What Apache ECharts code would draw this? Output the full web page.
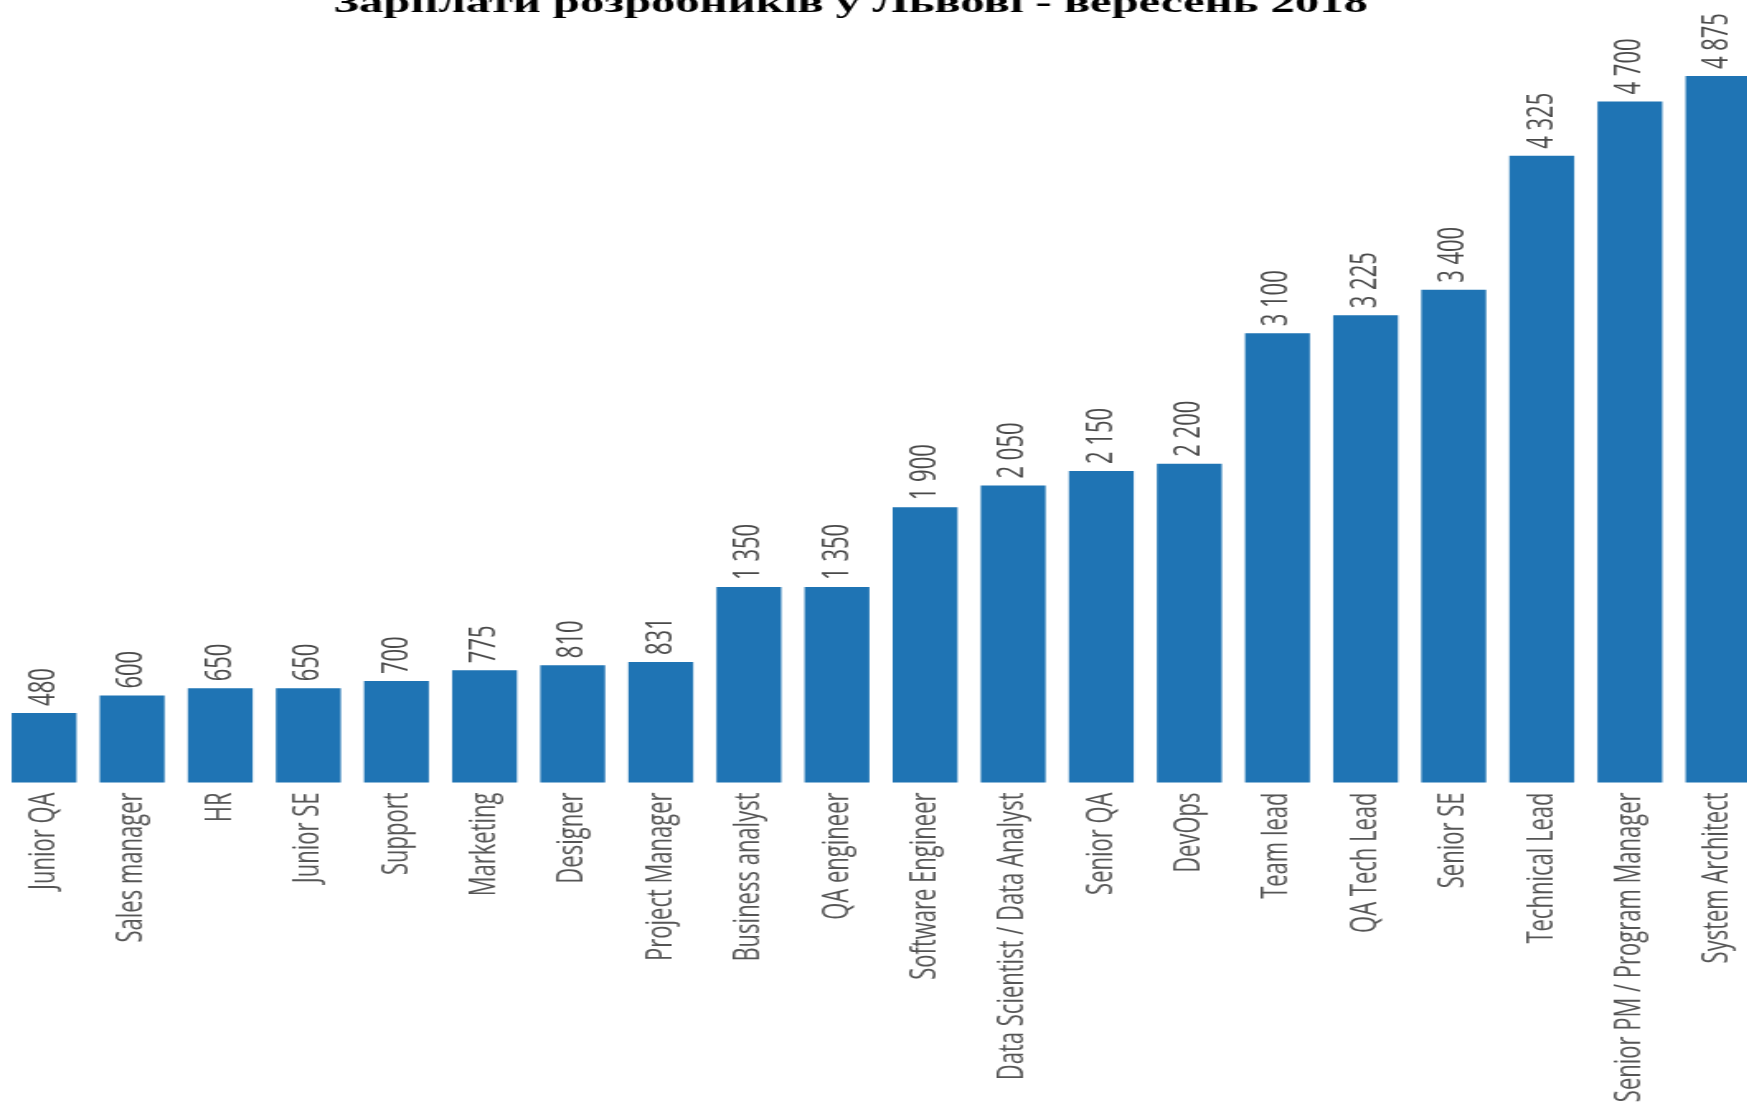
<!DOCTYPE html>
<html>
<head>
<meta charset="utf-8">
<script src="https://cdn.jsdelivr.net/npm/echarts@6/dist/echarts.min.js"></script>
<style>
  html, body { margin: 0; padding: 0; background: #ffffff; overflow: hidden; }
  body { width: 1748px; height: 1104px; }
  #chart { width: 1059.39px; height: 1104px; transform: scaleX(1.65); transform-origin: 0 0; }
</style>
</head>
<body>
<div id="chart"></div>
<script>
const titleText = 'Зарплати розробників у Львові - вересень 2018';
const categories = [
  'Junior QA', 'Sales manager', 'HR', 'Junior SE', 'Support', 'Marketing',
  'Designer', 'Project Manager', 'Business analyst', 'QA engineer',
  'Software Engineer', 'Data Scientist / Data Analyst', 'Senior QA', 'DevOps',
  'Team lead', 'QA Tech Lead', 'Senior SE', 'Technical Lead',
  'Senior PM / Program Manager', 'System Architect'
];
const salaries = [
  480, 600, 650, 650, 700, 775,
  810, 831, 1350, 1350,
  1900, 2050, 2150, 2200,
  3100, 3225, 3400, 4325,
  4700, 4875
];

function fmt(v) {
  return String(v).replace(/\B(?=(\d{3})+(?!\d))/g, ' ');
}

const chart = echarts.init(document.getElementById('chart'), null, { renderer: 'canvas' });
chart.setOption({
  backgroundColor: '#ffffff',
  animation: false,
  title: {
    text: titleText,
    left: 197,
    top: -16,
    textStyle: {
      fontFamily: '"Liberation Serif", "Times New Roman", serif',
      fontWeight: 'bold',
      fontSize: 29.5,
      color: '#000000'
    }
  },
  grid: {
    left: 0,
    top: 58,
    width: 1067.9,
    height: 724.5,
    containLabel: false,
    outerBoundsMode: 'none'
  },
  xAxis: {
    type: 'category',
    data: categories,
    axisLine: { show: false },
    axisTick: { show: false },
    axisLabel: {
      rotate: 90,
      margin: 10,
      interval: 0,
      fontFamily: '"Open Sans", sans-serif',
      fontSize: 22,
      color: '#555555'
    }
  },
  yAxis: {
    type: 'value',
    min: 0,
    max: 5000,
    show: false,
    splitLine: { show: false }
  },
  series: [{
    type: 'bar',
    data: salaries,
    barWidth: '73.6%',
    itemStyle: { color: '#1f74b4' },
    label: {
      show: true,
      position: 'top',
      rotate: 90,
      align: 'left',
      verticalAlign: 'middle',
      distance: 7,
      fontFamily: '"Open Sans", sans-serif',
      fontSize: 22,
      color: '#4a4a4a',
      formatter: p => fmt(p.value)
    }
  }]
});
</script>
</body>
</html>
